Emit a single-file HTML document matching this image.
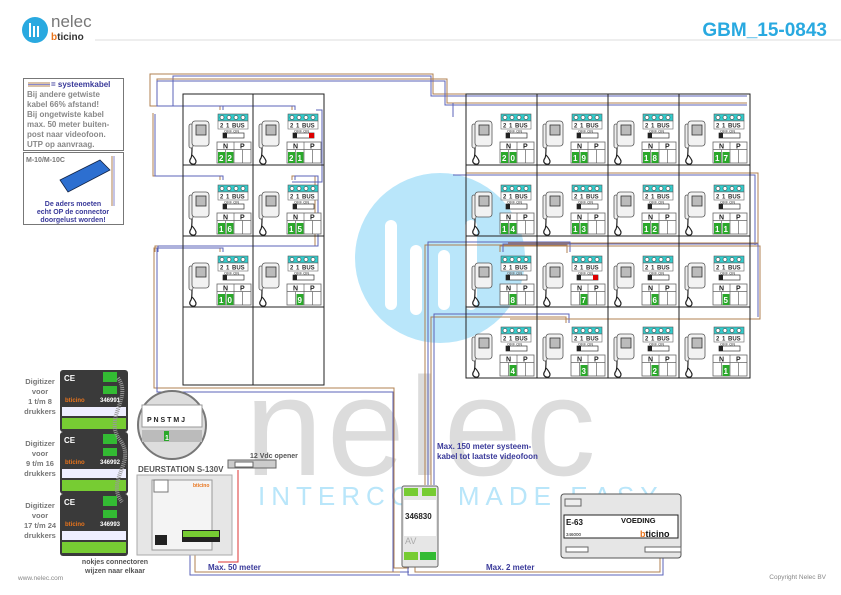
<!DOCTYPE html>
<html><head><meta charset="utf-8"><style>
body{margin:0;background:#fff}
svg{display:block}
text{font-family:"Liberation Sans",sans-serif}
</style></head><body>
<svg width="841" height="595" viewBox="0 0 841 595" xmlns="http://www.w3.org/2000/svg">
<defs>
<g id="ph">
 <rect x="6" y="30" width="4" height="24" rx="2" fill="#eee" stroke="#555" stroke-width="0.8"/>
 <rect x="9" y="27" width="17" height="25" rx="3" fill="#f2f2f2" stroke="#555" stroke-width="0.8"/>
 <rect x="13" y="31" width="10" height="10" fill="#bbb" stroke="#333" stroke-width="0.8"/>
 <path d="M9 54 q0 8 -1 10 q-3 4 1 6 q4 1 4 -3 q-1 -3 -4 -6" fill="none" stroke="#222" stroke-width="1.2"/>
</g>
<g id="tb">
 <rect x="35" y="20" width="30" height="7" fill="#3cc" stroke="#555" stroke-width="0.6"/>
 <circle cx="39" cy="23.5" r="2" fill="#fff" stroke="#333" stroke-width="0.6"/>
 <circle cx="46" cy="23.5" r="2" fill="#fff" stroke="#333" stroke-width="0.6"/>
 <circle cx="53" cy="23.5" r="2" fill="#fff" stroke="#333" stroke-width="0.6"/>
 <circle cx="60" cy="23.5" r="2" fill="#fff" stroke="#333" stroke-width="0.6"/>
 <rect x="35" y="27" width="30" height="8" fill="#fff" stroke="#666" stroke-width="0.6"/>
 <rect x="40" y="39" width="21" height="5" fill="#fff" stroke="#333" stroke-width="0.7"/>
 <rect x="40" y="39" width="4" height="5" fill="#222"/>
 <rect x="34" y="48" width="34" height="21" fill="#fff" stroke="#666" stroke-width="0.8"/>
 <path d="M34 55.5H68M51 48V69M42.5 55.5V69M59.5 55.5V69" stroke="#666" stroke-width="0.7"/>
</g>
<g id="lb">
 <text x="37" y="33.5" font-size="6" font-weight="bold" fill="#333">2</text>
 <text x="43" y="33.5" font-size="6" font-weight="bold" fill="#333">1</text>
 <text x="49" y="33.5" font-size="6" font-weight="bold" fill="#333">BUS</text>
 <text x="41" y="38.5" font-size="4" fill="#777">OFF ON</text>
 <text x="40" y="54.5" font-size="7" font-weight="bold" fill="#222">N</text>
 <text x="57" y="54.5" font-size="7" font-weight="bold" fill="#222">P</text>
</g>
</defs>

<!-- watermark -->
<circle cx="440" cy="258" r="85" fill="#b9e6fa"/>
<g fill="#fff"><rect x="385" y="220" width="12" height="90" rx="6"/><rect x="410" y="245" width="12" height="70" rx="6"/><rect x="438" y="250" width="12" height="60" rx="6"/><rect x="465" y="220" width="12" height="90" rx="6"/></g>
<text x="245" y="475" font-size="140" fill="#dcdcdc" letter-spacing="4">nelec</text>
<text x="258" y="505" font-size="26" fill="#b9e6fa" letter-spacing="6">INTERCOM MADE EASY</text>

<!-- header -->
<circle cx="35" cy="30" r="13" fill="#29a9e0"/>
<path d="M30 23v14M34 26v11M38 26v11" stroke="#fff" stroke-width="2"/>
<text x="51" y="27" font-size="17" fill="#777">nelec</text>
<text x="51" y="40" font-size="10" font-weight="bold" fill="#333"><tspan fill="#e8741c">b</tspan>ticino</text>
<line x1="95" y1="40" x2="841" y2="40" stroke="#ddd" stroke-width="1"/>
<text x="827" y="36" font-size="19" font-weight="bold" fill="#29a9e0" text-anchor="end">GBM_15-0843</text>

<!-- legend -->
<rect x="23.5" y="78.5" width="100" height="72" fill="#fff" stroke="#777"/>
<path d="M28 83h22M28 86h22" stroke="#b08050" stroke-width="1"/><path d="M28 84.5h22" stroke="#8888cc" stroke-width="1"/>
<text x="51" y="87" font-size="8" font-weight="bold" fill="#3a3a9a">= systeemkabel</text>
<g font-size="8" font-weight="bold" fill="#888">
<text x="27" y="97">Bij andere getwiste</text>
<text x="27" y="107">kabel 66% afstand!</text>
<text x="27" y="117">Bij ongetwiste kabel</text>
<text x="27" y="127">max. 50 meter buiten-</text>
<text x="27" y="137">post naar videofoon.</text>
<text x="27" y="147">UTP op aanvraag.</text>
</g>
<rect x="23.5" y="152.5" width="100" height="72" fill="#fff" stroke="#777"/>
<text x="26" y="162" font-size="7" font-weight="bold" fill="#777">M-10/M-10C</text>
<path d="M60 180l40-20l10 10l-42 22z" fill="#2d6fd0" stroke="#124" stroke-width="0.8"/>
<path d="M112 156v50" stroke="#b08050"/><path d="M114 156v50" stroke="#8888cc"/>
<g font-size="7" font-weight="bold" fill="#3a3a9a" text-anchor="middle">
<text x="73" y="206">De aders moeten</text>
<text x="73" y="214">echt OP de connector</text>
<text x="73" y="222">doorgelust worden!</text>
</g>

<!-- cables -->
<g fill="none" stroke-width="1">
<path d="M220 110v-4h-70v-32h283v20h312" stroke="#b08050"/>
<path d="M223 110v-4h-50v-30h258v20h316" stroke="#5b63b8"/>
<path d="M292 110v-4h-135v-27h290v24h300" stroke="#b08050"/>
<path d="M295 110v-4h-138v-25h288v24h302" stroke="#5b63b8"/>
<path d="M220 180v-4h-67v-63" stroke="#b08050"/>
<path d="M223 180v-4h-68v-62" stroke="#5b63b8"/>
<path d="M292 180v-4h23v70h-160v6" stroke="#b08050"/>
<path d="M295 180v-4h23v70h-160v6" stroke="#5b63b8"/>
<path d="M220 252v-4h-66v140h240v180h15" stroke="#b08050"/>
<path d="M223 252v-4h-66v144h236v180h16" stroke="#5b63b8"/>
<path d="M316 110h6v72h-30" stroke="#5b63b8"/>
<path d="M453 117v-14M453 175h302v70" stroke="#5b63b8"/>
<path d="M466 173h292v70h-250" stroke="#b08050"/>
<path d="M425 485v-240h142v8" stroke="#b08050"/>
<path d="M428 485v-243h142v10" stroke="#5b63b8"/>
<path d="M431 485v-168h135v6" stroke="#b08050"/>
<path d="M434 485v-171h135v9" stroke="#5b63b8"/>
<path d="M500 252v-6h260v73h-250" stroke="#b08050"/>
<path d="M503 252v-8h255v73" stroke="#5b63b8"/>
<path d="M415 560v12h245v-25" stroke="#b08050"/>
<path d="M408 560v15h255v-28" stroke="#5b63b8"/>
<path d="M190 545v30h210" stroke="#5b63b8"/>
<path d="M195 545v27h205" stroke="#b08050"/>
<path d="M405 490h20M402 495v60" stroke="#5b63b8"/>
<path d="M238 470v92h-20" stroke="#d33"/>
</g>

<!-- grids -->
<g fill="none" stroke="#222" stroke-width="1">
<rect x="183" y="94" width="141" height="291"/>
<path d="M253 94v291M183 165h141M183 236h141M183 307h141"/>
<rect x="466" y="94" width="284" height="284"/>
<path d="M537 94v284M608 94v284M679 94v284M466 165h284M466 236h284M466 307h284"/>
</g>

<!-- cells -->
<g font-size="8" font-weight="bold" fill="#fff">
<g transform="translate(183,94)"><use href="#ph"/><use href="#tb"/><use href="#lb"/><rect x="35" y="58" width="7" height="11" fill="#2aa82a"/><rect x="43.5" y="58" width="7" height="11" fill="#2aa82a"/><text x="36" y="67">2</text><text x="44.5" y="67">2</text></g>
<g transform="translate(253,94)"><use href="#ph"/><use href="#tb"/><use href="#lb"/><rect x="56" y="39" width="5" height="5" fill="#d00"/><rect x="35" y="58" width="7" height="11" fill="#2aa82a"/><rect x="43.5" y="58" width="7" height="11" fill="#2aa82a"/><text x="36" y="67">2</text><text x="44.5" y="67">1</text></g>
<g transform="translate(183,165)"><use href="#ph"/><use href="#tb"/><use href="#lb"/><rect x="35" y="58" width="7" height="11" fill="#2aa82a"/><rect x="43.5" y="58" width="7" height="11" fill="#2aa82a"/><text x="36" y="67">1</text><text x="44.5" y="67">6</text></g>
<g transform="translate(253,165)"><use href="#ph"/><use href="#tb"/><use href="#lb"/><rect x="35" y="58" width="7" height="11" fill="#2aa82a"/><rect x="43.5" y="58" width="7" height="11" fill="#2aa82a"/><text x="36" y="67">1</text><text x="44.5" y="67">5</text></g>
<g transform="translate(183,236)"><use href="#ph"/><use href="#tb"/><use href="#lb"/><rect x="35" y="58" width="7" height="11" fill="#2aa82a"/><rect x="43.5" y="58" width="7" height="11" fill="#2aa82a"/><text x="36" y="67">1</text><text x="44.5" y="67">0</text></g>
<g transform="translate(253,236)"><use href="#ph"/><use href="#tb"/><use href="#lb"/><rect x="43.5" y="58" width="7" height="11" fill="#2aa82a"/><text x="44.5" y="67">9</text></g>
<g transform="translate(466,94)"><use href="#ph"/><use href="#tb"/><use href="#lb"/><rect x="35" y="58" width="7" height="11" fill="#2aa82a"/><rect x="43.5" y="58" width="7" height="11" fill="#2aa82a"/><text x="36" y="67">2</text><text x="44.5" y="67">0</text></g>
<g transform="translate(537,94)"><use href="#ph"/><use href="#tb"/><use href="#lb"/><rect x="35" y="58" width="7" height="11" fill="#2aa82a"/><rect x="43.5" y="58" width="7" height="11" fill="#2aa82a"/><text x="36" y="67">1</text><text x="44.5" y="67">9</text></g>
<g transform="translate(608,94)"><use href="#ph"/><use href="#tb"/><use href="#lb"/><rect x="35" y="58" width="7" height="11" fill="#2aa82a"/><rect x="43.5" y="58" width="7" height="11" fill="#2aa82a"/><text x="36" y="67">1</text><text x="44.5" y="67">8</text></g>
<g transform="translate(679,94)"><use href="#ph"/><use href="#tb"/><use href="#lb"/><rect x="35" y="58" width="7" height="11" fill="#2aa82a"/><rect x="43.5" y="58" width="7" height="11" fill="#2aa82a"/><text x="36" y="67">1</text><text x="44.5" y="67">7</text></g>
<g transform="translate(466,165)"><use href="#ph"/><use href="#tb"/><use href="#lb"/><rect x="35" y="58" width="7" height="11" fill="#2aa82a"/><rect x="43.5" y="58" width="7" height="11" fill="#2aa82a"/><text x="36" y="67">1</text><text x="44.5" y="67">4</text></g>
<g transform="translate(537,165)"><use href="#ph"/><use href="#tb"/><use href="#lb"/><rect x="35" y="58" width="7" height="11" fill="#2aa82a"/><rect x="43.5" y="58" width="7" height="11" fill="#2aa82a"/><text x="36" y="67">1</text><text x="44.5" y="67">3</text></g>
<g transform="translate(608,165)"><use href="#ph"/><use href="#tb"/><use href="#lb"/><rect x="35" y="58" width="7" height="11" fill="#2aa82a"/><rect x="43.5" y="58" width="7" height="11" fill="#2aa82a"/><text x="36" y="67">1</text><text x="44.5" y="67">2</text></g>
<g transform="translate(679,165)"><use href="#ph"/><use href="#tb"/><use href="#lb"/><rect x="35" y="58" width="7" height="11" fill="#2aa82a"/><rect x="43.5" y="58" width="7" height="11" fill="#2aa82a"/><text x="36" y="67">1</text><text x="44.5" y="67">1</text></g>
<g transform="translate(466,236)"><use href="#ph"/><use href="#tb"/><use href="#lb"/><rect x="43.5" y="58" width="7" height="11" fill="#2aa82a"/><text x="44.5" y="67">8</text></g>
<g transform="translate(537,236)"><use href="#ph"/><use href="#tb"/><use href="#lb"/><rect x="56" y="39" width="5" height="5" fill="#d00"/><rect x="43.5" y="58" width="7" height="11" fill="#2aa82a"/><text x="44.5" y="67">7</text></g>
<g transform="translate(608,236)"><use href="#ph"/><use href="#tb"/><use href="#lb"/><rect x="43.5" y="58" width="7" height="11" fill="#2aa82a"/><text x="44.5" y="67">6</text></g>
<g transform="translate(679,236)"><use href="#ph"/><use href="#tb"/><use href="#lb"/><rect x="43.5" y="58" width="7" height="11" fill="#2aa82a"/><text x="44.5" y="67">5</text></g>
<g transform="translate(466,307)"><use href="#ph"/><use href="#tb"/><use href="#lb"/><rect x="43.5" y="58" width="7" height="11" fill="#2aa82a"/><text x="44.5" y="67">4</text></g>
<g transform="translate(537,307)"><use href="#ph"/><use href="#tb"/><use href="#lb"/><rect x="43.5" y="58" width="7" height="11" fill="#2aa82a"/><text x="44.5" y="67">3</text></g>
<g transform="translate(608,307)"><use href="#ph"/><use href="#tb"/><use href="#lb"/><rect x="43.5" y="58" width="7" height="11" fill="#2aa82a"/><text x="44.5" y="67">2</text></g>
<g transform="translate(679,307)"><use href="#ph"/><use href="#tb"/><use href="#lb"/><rect x="43.5" y="58" width="7" height="11" fill="#2aa82a"/><text x="44.5" y="67">1</text></g>
</g>

<!-- digitizers -->
<g font-weight="bold">
<g font-size="7.5" fill="#777" text-anchor="middle">
<text x="40" y="384">Digitizer</text><text x="40" y="394">voor</text><text x="40" y="404">1 t/m 8</text><text x="40" y="414">drukkers</text>
<text x="40" y="446">Digitizer</text><text x="40" y="456">voor</text><text x="40" y="466">9 t/m 16</text><text x="40" y="476">drukkers</text>
<text x="40" y="508">Digitizer</text><text x="40" y="518">voor</text><text x="40" y="528">17 t/m 24</text><text x="40" y="538">drukkers</text>
</g>
<g id="dg1">
<rect x="60" y="370" width="68" height="62" rx="3" fill="#3a3a3a"/>
<rect x="62" y="407" width="64" height="9" fill="#eef" /><rect x="62" y="418" width="64" height="11" fill="#7c3"/>
<rect x="103" y="372" width="14" height="10" fill="#3b3"/><rect x="103" y="386" width="14" height="8" fill="#3b3"/>
<text x="64" y="381" font-size="8" fill="#fff">CE</text>
<text x="65" y="402" font-size="6" fill="#e8741c">bticino</text>
</g>
<text x="100" y="402" font-size="6" fill="#fff">346991</text>
<g transform="translate(0,62)"><use href="#dg1"/></g><text x="100" y="464" font-size="6" fill="#fff">346992</text>
<g transform="translate(0,124)"><use href="#dg1"/></g><text x="100" y="526" font-size="6" fill="#fff">346993</text>
</g>
<path d="M118 378c15 20 -15 40 2 62s-15 40 2 62" fill="none" stroke="#999" stroke-width="4" stroke-dasharray="1 1"/>
<text x="115" y="564" font-size="7" font-weight="bold" fill="#555" text-anchor="middle">nokjes connectoren</text>
<text x="115" y="573" font-size="7" font-weight="bold" fill="#555" text-anchor="middle">wijzen naar elkaar</text>
<text x="18" y="580" font-size="6.5" fill="#888">www.nelec.com</text>

<!-- zoom circle -->
<circle cx="172" cy="425" r="34" fill="#ddd" stroke="#777" stroke-width="2"/>
<rect x="142" y="405" width="60" height="22" fill="#fff" stroke="#999"/>
<text x="147" y="422" font-size="7" font-weight="bold" fill="#222">P  N  S  T  M  J</text>
<rect x="142" y="430" width="60" height="12" fill="#bbb"/><rect x="164" y="431" width="5" height="10" fill="#2aa82a"/>
<text x="165" y="440" font-size="7" font-weight="bold" fill="#fff">1</text>

<!-- deurstation -->
<text x="138" y="472" font-size="8" font-weight="bold" fill="#555">DEURSTATION S-130V</text>
<rect x="137" y="475" width="95" height="80" fill="#e6e6e6" stroke="#aaa"/>
<rect x="152" y="480" width="60" height="70" fill="#f4f4f4" stroke="#999"/>
<rect x="154" y="480" width="14" height="12" fill="#fff" stroke="#777"/>
<rect x="155" y="535" width="12" height="10" fill="#222"/>
<rect x="182" y="530" width="38" height="12" fill="#222"/><rect x="183" y="531" width="36" height="6" fill="#7c3"/>
<text x="193" y="487" font-size="5" font-weight="bold" fill="#e8741c">bticino</text>
<text x="250" y="458" font-size="7" font-weight="bold" fill="#555">12 Vdc opener</text>
<rect x="228" y="460" width="48" height="8" fill="#ccc" stroke="#666"/><rect x="235" y="462" width="18" height="5" fill="#fff" stroke="#666"/>
<text x="208" y="570" font-size="8" font-weight="bold" fill="#3a3a9a">Max. 50 meter</text>

<!-- 346830 -->
<text x="437" y="449" font-size="8" font-weight="bold" fill="#3a3a9a">Max. 150 meter systeem-</text>
<text x="437" y="459" font-size="8" font-weight="bold" fill="#3a3a9a">kabel tot laatste videofoon</text>
<rect x="402" y="486" width="36" height="81" rx="2" fill="#e6e6e6" stroke="#666"/>
<rect x="404" y="488" width="14" height="8" fill="#7c3"/><rect x="422" y="488" width="14" height="8" fill="#7c3"/>
<rect x="404" y="500" width="32" height="36" fill="#fff"/>
<text x="405" y="519" font-size="8" font-weight="bold" fill="#222">346830</text>
<text x="405" y="544" font-size="9" fill="#aaa">AV</text>
<rect x="404" y="552" width="14" height="8" fill="#7c3"/><rect x="420" y="552" width="16" height="8" fill="#3b3"/>

<!-- E-63 -->
<rect x="561" y="494" width="120" height="64" rx="3" fill="#e6e6e6" stroke="#555"/>
<rect x="565" y="499" width="16" height="7" fill="#eee" stroke="#666"/>
<rect x="564" y="515" width="114" height="23" fill="#fff" stroke="#222"/>
<text x="566" y="525" font-size="8" font-weight="bold" fill="#111">E-63</text>
<text x="621" y="523" font-size="7.5" font-weight="bold" fill="#111">VOEDING</text>
<text x="566" y="536" font-size="4.5" fill="#111">346000</text>
<text x="640" y="537" font-size="9" font-weight="bold" fill="#111"><tspan fill="#e8741c">b</tspan>ticino</text>
<rect x="566" y="547" width="22" height="5" fill="#fff" stroke="#666"/>
<rect x="645" y="547" width="36" height="5" fill="#fff" stroke="#666"/>
<text x="486" y="570" font-size="8" font-weight="bold" fill="#3a3a9a">Max. 2 meter</text>
<text x="826" y="579" font-size="6.5" fill="#888" text-anchor="end">Copyright Nelec BV</text>
</svg>
</body></html>
